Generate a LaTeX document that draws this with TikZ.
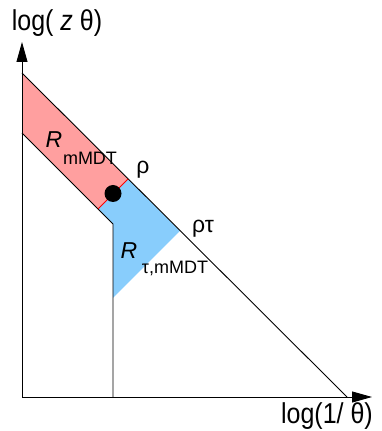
\documentclass[tikz,border=0pt]{standalone}
\usepackage{fontspec}
\setmainfont{Liberation Sans}
\usetikzlibrary{arrows.meta}
\definecolor{bandred}{HTML}{FF9F9F}
\definecolor{bandblue}{HTML}{88CDFC}
\tikzset{
  axis/.style   = {line width=0.9pt, -{Triangle[length=20pt,width=11pt]}},
  edge/.style   = {line width=0.9pt, black},
  axlbl/.style  = {font=\fontsize{25}{28}\selectfont, inner sep=0pt},
  lbl/.style    = {font=\fontsize{23}{26}\selectfont, inner sep=0pt},
  sublbl/.style = {font=\fontsize{18}{20}\selectfont, inner sep=0pt},
}
\newcommand{\tallstr}[1]{\scalebox{1}[1.15]{#1}}

\begin{document}
\begin{tikzpicture}[x=1pt, y=1pt]
    \useasboundingbox (0,0) rectangle (381,431);

    \coordinate (O)  at (22,34);
    \coordinate (Y)  at (22,389);
    \coordinate (X)  at (372,34);
    \coordinate (A)  at (22,358);   % top of the upper line
    \coordinate (E)  at (347,34);   % foot of the upper line
    \coordinate (L)  at (22,298);   % top of the lower line
    \coordinate (K)  at (113,207);  % kink where the lower line stops
    \coordinate (F)  at (113,34);
    \coordinate (Pl) at (98,222);   % rho cut, lower end
    \coordinate (Pu) at (128,252);  % rho cut, upper end
    \coordinate (Tu) at (180,200);  % rho tau cut, upper end
    \coordinate (Tl) at (113,133);  % rho tau cut, lower end

    % shaded regions first, lines on top
    \fill[bandred]  (A) -- (Pu) -- (Pl) -- (L) -- cycle;
    \fill[bandblue] (Pl) -- (K) -- (Tl) -- (Tu) -- (Pu) -- cycle;

    \draw[axis] (O) -- (Y);
    \draw[axis] (O) -- (X);
    \draw[edge] (A) -- (E);
    \draw[edge] (L) -- (K) -- (F);
    \draw[red, line width=0.9pt] (Pl) -- (Pu);

    \node[circle, fill=black, inner sep=0pt, minimum size=17pt] (dot) at (113,237.5) {};

    \node[axlbl] (ylab) at (57,408) {\tallstr{log( \textit{z} θ)}};
    \node[axlbl] (xlab) at (327,15) {\tallstr{log(1/ θ)}};
    \node[lbl] (rho)  at (143,261) {ρ};
    \node[lbl] (rhotau) at (203,202) {ρτ};
    \node[lbl] (R1) at (54,291) {\textit{R}};
    \node[sublbl] (R1sub) at (90,273) {mMDT};
    \node[lbl] (R2) at (129,180) {\textit{R}};
    \node[sublbl] (R2sub) at (175,163) {τ,mMDT};
\end{tikzpicture}
\end{document}
